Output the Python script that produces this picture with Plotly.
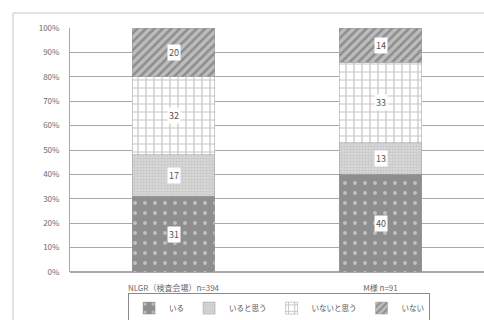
import plotly.graph_objects as go

# Stacked share of responses per group (percent)
categories = ["NLGR（検査会場）n=394", "M様 n=91"]
series_names = ["いる", "いると思う", "いないと思う", "いない"]
iru = [31, 40]
iru_omou = [17, 13]
inai_omou = [32, 33]
inai = [20, 14]
y_ticks = [0, 10, 20, 30, 40, 50, 60, 70, 80, 90, 100]
y_tick_labels = [f"{t}%" for t in y_ticks]

series_values = [iru, iru_omou, inai_omou, inai]

patterns = [
    dict(shape=".", bgcolor="#8e8e8e", fgcolor="#f4f4f4", size=10, solidity=0.12),
    dict(shape=".", bgcolor="#d6d6d6", fgcolor="#b4b4b4", size=3, solidity=0.35),
    dict(shape="+", bgcolor="#ffffff", fgcolor="#8a8a8a", size=8, solidity=0.28),
    dict(shape="/", bgcolor="#bdbdbd", fgcolor="#5e5e5e", size=6, solidity=0.42),
]

font_family = "Noto Sans CJK JP, Noto Sans, sans-serif"

fig = go.Figure()
for name, vals, pat in zip(series_names, series_values, patterns):
    fig.add_trace(go.Bar(
        x=categories, y=vals, name=name, width=0.4,
        marker=dict(color=pat["bgcolor"], pattern=pat,
                    line=dict(color="#9a9a9a", width=0.5)),
    ))

# Value labels in small white boxes at the middle of each segment
annotations = []
for ci, cat in enumerate(categories):
    base = 0
    for vals in series_values:
        v = vals[ci]
        annotations.append(dict(
            x=cat, y=base + v / 2, xref="x", yref="y", text=str(v),
            showarrow=False, bgcolor="white", borderpad=1,
            font=dict(size=9, color="#555555", family=font_family),
        ))
        base += v

fig.update_layout(
    width=484, height=320,
    margin=dict(l=70, r=0, t=28, b=48, autoexpand=False),
    paper_bgcolor="white", plot_bgcolor="white",
    barmode="stack",
    font=dict(family=font_family, size=8, color="#6a6a6a"),
    annotations=annotations,
    showlegend=True,
    legend=dict(
        orientation="h", x=0.505, y=-0.148, xanchor="center", yanchor="middle",
        traceorder="normal",
        bordercolor="#8a8a8a", borderwidth=1, bgcolor="white",
        font=dict(size=7.5, color="#555555", family=font_family),
        itemwidth=30,
    ),
    xaxis=dict(showgrid=False, showline=False, ticks="", ticklabelstandoff=10,
               tickfont=dict(size=8, color="#6a6a6a")),
    yaxis=dict(range=[0, 100], tickvals=y_ticks, ticktext=y_tick_labels,
               ticklabelstandoff=8,
               showgrid=True, gridcolor="#a8a8a8", gridwidth=1,
               showline=True, linecolor="#a8a8a8", linewidth=1,
               zeroline=True, zerolinecolor="#a8a8a8",
               tickfont=dict(size=8, color="#6a6a6a")),
    shapes=[dict(type="rect", xref="paper", yref="paper",
                 x0=-57 / 414, x1=1.05, y0=-0.4, y1=259 / 244,
                 line=dict(color="#c4c4c4", width=1), layer="below")],
)

fig.write_html("out.html")
